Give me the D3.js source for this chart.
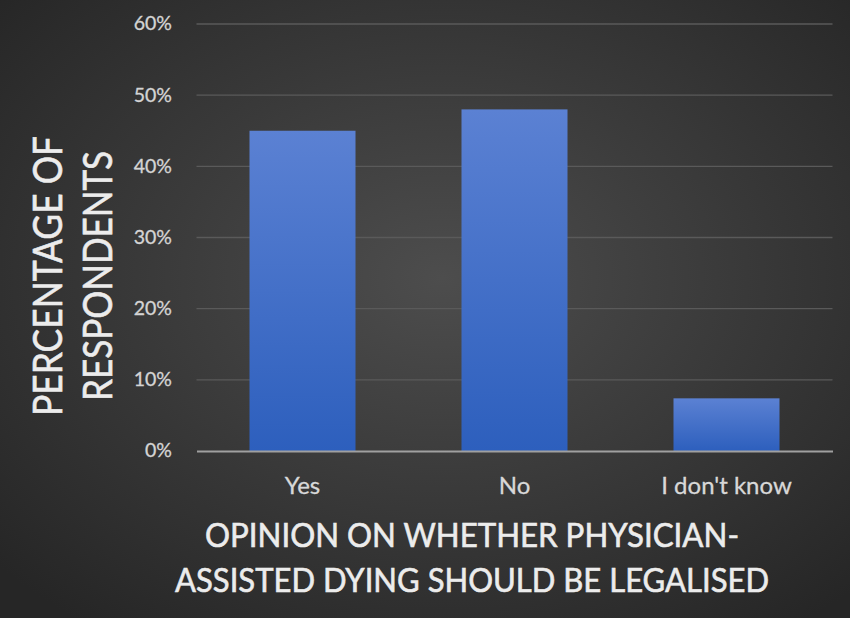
<!DOCTYPE html>
<html>
<head>
<meta charset="utf-8">
<script src="https://cdn.jsdelivr.net/npm/d3@7"></script>
<style>
html,body{margin:0;padding:0;background:#2a2a2a;}
svg{display:block;}
</style>
</head>
<body>
<svg id="chart" width="850" height="618"></svg>
<script>
const categories = ["Yes", "No", "I don't know"];
const values = [0.45, 0.48, 0.074];
const yTicks = [0, 0.1, 0.2, 0.3, 0.4, 0.5, 0.6];
const yTitleLines = ["PERCENTAGE OF", "RESPONDENTS"];
const xTitleLines = ["OPINION ON WHETHER PHYSICIAN-", "ASSISTED DYING SHOULD BE LEGALISED"];

const W = 850, H = 618;
const svg = d3.select("#chart");
const defs = svg.append("defs");

const bg = defs.append("radialGradient").attr("id", "bg")
  .attr("cx", "52%").attr("cy", "45%").attr("r", "70%");
bg.append("stop").attr("offset", "0%").attr("stop-color", "#4d4d4d");
bg.append("stop").attr("offset", "100%").attr("stop-color", "#262626");

const barGrad = defs.append("linearGradient").attr("id", "barGrad")
  .attr("x1", 0).attr("y1", 0).attr("x2", 0).attr("y2", 1);
barGrad.append("stop").attr("offset", "0%").attr("stop-color", "#5b81d3");
barGrad.append("stop").attr("offset", "100%").attr("stop-color", "#2d5fbd");

svg.append("rect").attr("width", W).attr("height", H).attr("fill", "url(#bg)");

const x = d3.scaleBand().domain(categories).range([196.5, 832.5]).paddingInner(0.5).paddingOuter(0.25);
const y = d3.scaleLinear().domain([0, 0.6]).range([451, 24]);

const font = "Lato, 'Open Sans', sans-serif";

// gridlines
svg.append("g").selectAll("line").data(yTicks.filter(d => d > 0)).join("line")
  .attr("x1", 196.5).attr("x2", 832.5)
  .attr("y1", d => y(d)).attr("y2", d => y(d))
  .attr("stroke", "#5a5a5a").attr("stroke-width", 1.3);

// y axis labels
const yAxis = d3.axisLeft(y).tickValues(yTicks).tickFormat(d3.format(".0%")).tickSize(0).tickPadding(25);
const gy = svg.append("g").attr("transform", "translate(197,0)").call(yAxis);
gy.select(".domain").remove();
gy.selectAll("text").attr("font-family", font).attr("font-size", 19.5)
  .attr("fill", "#d4d4d4").attr("stroke", "#d4d4d4").attr("stroke-width", 0.3).attr("dy", "0.3em");

// bars
svg.append("g").selectAll("rect").data(categories).join("rect")
  .attr("x", d => x(d)).attr("width", x.bandwidth())
  .attr("y", (d, i) => y(values[i])).attr("height", (d, i) => y(0) - y(values[i]))
  .attr("fill", "url(#barGrad)");

// x axis
const xAxis = d3.axisBottom(x).tickSize(0).tickPadding(26);
const gx = svg.append("g").attr("transform", "translate(0,451)").call(xAxis);
gx.select(".domain").attr("stroke", "#a0a0a0").attr("stroke-width", 2);
gx.selectAll("text").attr("font-family", font).attr("font-size", 24)
  .attr("fill", "#d8d8d8").attr("stroke", "#d8d8d8").attr("stroke-width", 0.3).attr("dy", "0.71em");

// x title
const xLens = [534, 594];
const xBase = [547, 592];
svg.append("g").selectAll("text").data(xTitleLines).join("text")
  .attr("x", 472).attr("y", (d, i) => xBase[i])
  .attr("text-anchor", "middle")
  .attr("font-family", font).attr("font-size", 33)
  .attr("fill", "#ececec").attr("stroke", "#ececec").attr("stroke-width", 0.6)
  .attr("textLength", (d, i) => xLens[i]).attr("lengthAdjust", "spacingAndGlyphs")
  .text(d => d);

// y title
const yLens = [280, 250];
const yBase = [62, 112];
svg.append("g").selectAll("text").data(yTitleLines).join("text")
  .attr("transform", (d, i) => `translate(${yBase[i]},276) rotate(-90)`)
  .attr("text-anchor", "middle")
  .attr("font-family", font).attr("font-size", 40)
  .attr("fill", "#ececec").attr("stroke", "#ececec").attr("stroke-width", 0.6)
  .attr("textLength", (d, i) => yLens[i]).attr("lengthAdjust", "spacingAndGlyphs")
  .text(d => d);
</script>
</body>
</html>
